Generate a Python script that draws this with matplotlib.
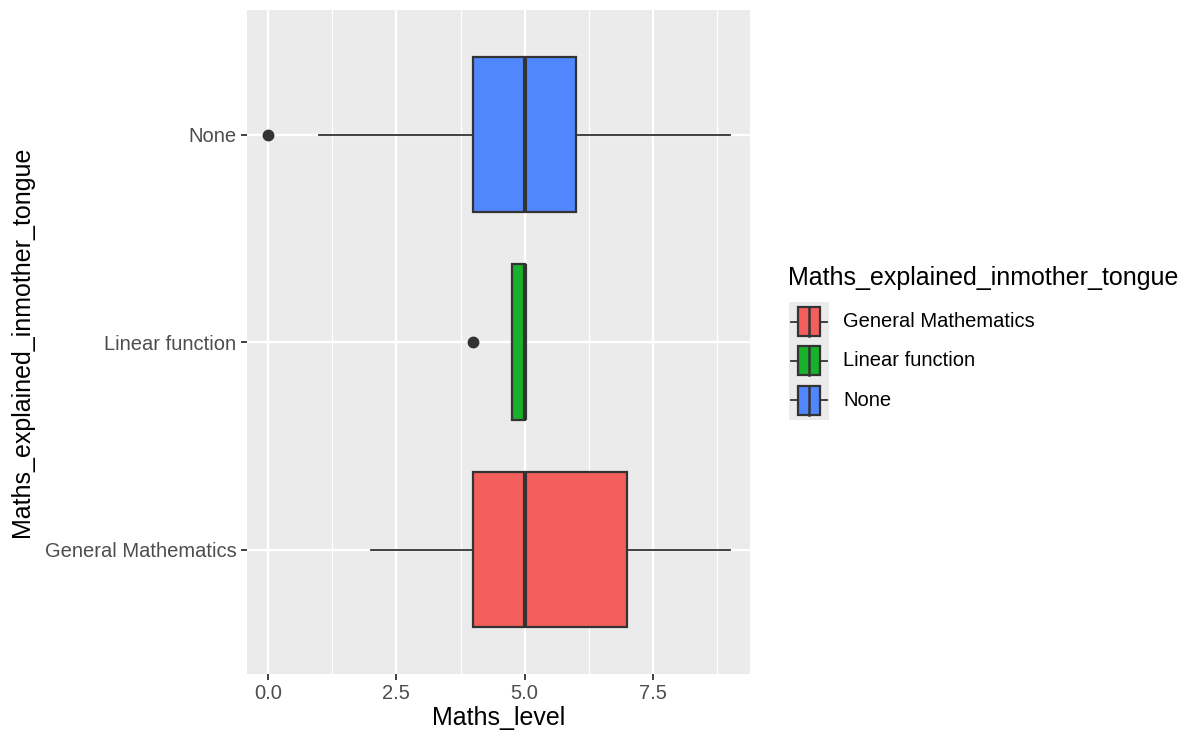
import matplotlib
matplotlib.use("Agg")
import matplotlib.pyplot as plt
from matplotlib.patches import Rectangle
from matplotlib.lines import Line2D

plt.rcParams['font.family'] = ['Liberation Sans', 'DejaVu Sans']

categories = ["General Mathematics", "Linear function", "None"]
q1 = [4.0, 4.75, 4.0]
medians = [5.0, 5.0, 5.0]
q3 = [7.0, 5.0, 6.0]
whislo = [2.0, 4.75, 1.0]
whishi = [9.0, 5.0, 9.0]
fliers = [[], [4.0], [0.0]]
fill_colors = ["#F25F5C", "#17B12B", "#5087FE"]
x_ticks = [0.0, 2.5, 5.0, 7.5]
x_tick_labels = ["0.0", "2.5", "5.0", "7.5"]
x_minor = [1.25, 3.75, 6.25, 8.75]

W, H = 1194, 733
fig = plt.figure(figsize=(W / 100, H / 100), dpi=100)
ax = fig.add_axes([247 / W, (H - 674) / H, (750 - 247) / W, (674 - 10) / H])
ax.set_facecolor("#EBEBEB")
for s in ax.spines.values():
    s.set_visible(False)

ax.set_xlim(-0.41, 9.39)
ax.set_ylim(0.4, 3.6)
for x in x_ticks:
    ax.axvline(x, color="white", lw=1.7, zorder=0)
for x in x_minor:
    ax.axvline(x, color="white", lw=0.9, zorder=0)
for i in range(len(categories)):
    ax.axhline(i + 1, color="white", lw=1.7, zorder=0)

stats = []
for i, c in enumerate(categories):
    stats.append(dict(label=c, q1=q1[i], med=medians[i], q3=q3[i],
                      whislo=whislo[i], whishi=whishi[i], fliers=fliers[i]))
edge = "#333333"
bp = ax.bxp(stats, positions=[1, 2, 3], widths=0.75, vert=False,
            patch_artist=True, showcaps=False,
            boxprops=dict(edgecolor=edge, linewidth=1.6),
            whiskerprops=dict(color=edge, linewidth=1.3),
            medianprops=dict(color=edge, linewidth=3.0, solid_capstyle="butt"),
            flierprops=dict(marker="o", markerfacecolor=edge, markeredgecolor=edge,
                            markersize=7.5, linestyle="none"))
for patch, col in zip(bp["boxes"], fill_colors):
    patch.set_facecolor(col)
    patch.set_zorder(2)

ax.set_xticks(x_ticks)
ax.set_xticklabels(x_tick_labels)
ax.set_yticks([1, 2, 3])
ax.set_yticklabels(categories)
ax.tick_params(axis="both", colors="#333333", length=4.5, width=1.3,
               labelsize=14.5, labelcolor="#4D4D4D", pad=3)

fig.text(499 / W, 1 - 718 / H, "Maths_level", fontsize=18, ha="center", va="center")
fig.text(22 / W, 1 - 342 / H, "Maths_explained_inmother_tongue", fontsize=18,
         ha="center", va="center", rotation=90)

# Legend drawn in a pixel-coordinate overlay axes
lg = fig.add_axes([0, 0, 1, 1])
lg.set_xlim(0, W)
lg.set_ylim(H, 0)
lg.axis("off")
lg.text(788, 278, "Maths_explained_inmother_tongue", fontsize=18, va="center", ha="left")
key_top = 302
key_h = 39.3
lg.add_patch(Rectangle((789, key_top), 40, key_h * 3, facecolor="#EBEBEB", edgecolor="none"))
for i, (c, col) in enumerate(zip(categories, fill_colors)):
    yc = key_top + key_h * (i + 0.5)
    lg.add_patch(Rectangle((798, yc - 14.5), 22, 29, facecolor=col, edgecolor=edge, lw=1.6))
    lg.add_line(Line2D([809, 809], [yc - 14.5, yc + 14.5], color=edge, lw=1.8))
    lg.add_line(Line2D([791, 798], [yc, yc], color=edge, lw=1.3))
    lg.add_line(Line2D([820, 827], [yc, yc], color=edge, lw=1.3))
    lg.text(843, yc, c, fontsize=14.5, va="center", ha="left")

fig.savefig("out.png", dpi=100)
